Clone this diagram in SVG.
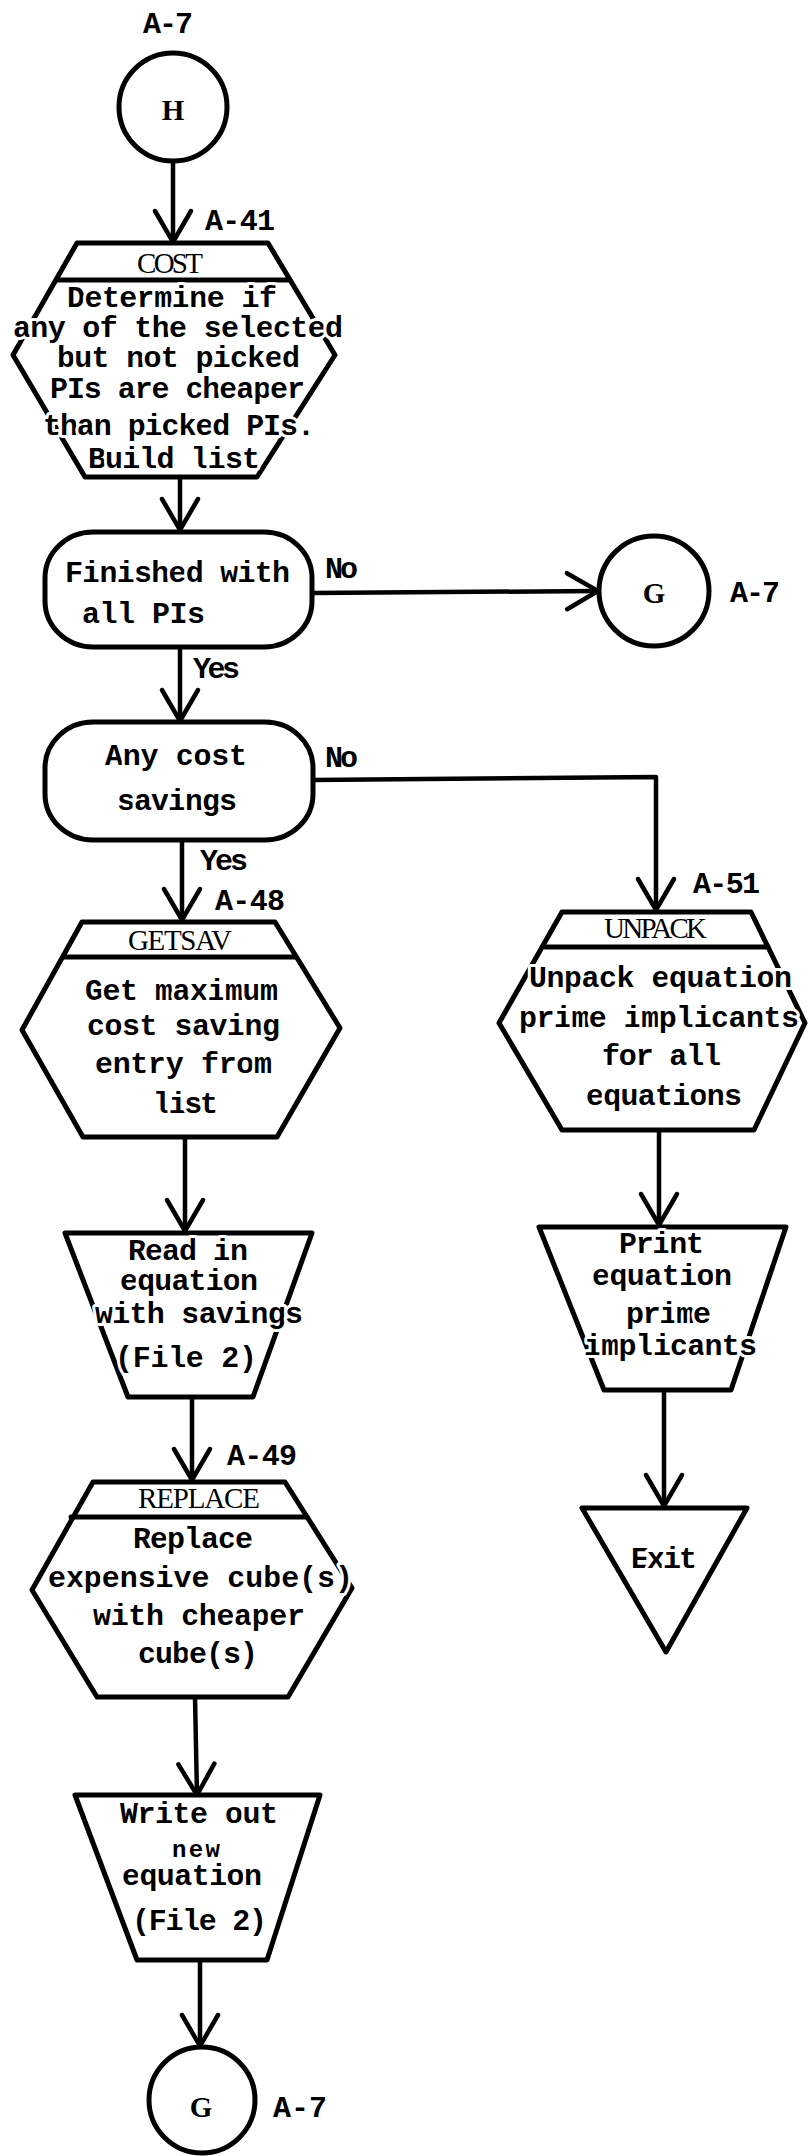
<svg xmlns="http://www.w3.org/2000/svg" width="809" height="2156" viewBox="0 0 809 2156">
<style>
.bg{fill:#fff}
.shape{fill:#fff;stroke:#000;stroke-width:5;stroke-linejoin:round}
.hl{fill:none;stroke:#000;stroke-width:5;stroke-linecap:round}
.conn{fill:none;stroke:#000;stroke-width:4.5;stroke-linecap:round;stroke-linejoin:round}
.t{font-family:"Liberation Mono","DejaVu Sans Mono",monospace;font-weight:bold;font-size:30px;fill:#000;stroke:#fff;stroke-width:6;stroke-linejoin:round;paint-order:stroke}
.lbl{font-family:"Liberation Mono","DejaVu Sans Mono",monospace;font-weight:bold;font-size:30px;fill:#000}
.hd{font-family:"Liberation Serif","Times New Roman",serif;font-size:29px;fill:#000}
.ch{font-family:"Liberation Serif","Times New Roman",serif;font-weight:bold;font-size:29px;fill:#000;text-anchor:middle}
</style>
<defs>
<marker id="arr" markerUnits="userSpaceOnUse" markerWidth="44" markerHeight="44" viewBox="-36 -22 44 44" refX="0" refY="0" orient="auto" overflow="visible">
<path d="M-31,-18 L0,0 L-31,18" fill="none" stroke="#000" stroke-width="4.5" stroke-linecap="round" stroke-linejoin="miter"/>
</marker>
</defs>
<rect class="bg" x="0" y="0" width="809" height="2156"/>

<g id="connectors">
<path class="conn" d="M173,162 L173,242" marker-end="url(#arr)"/>
<path class="conn" d="M180,478 L180,530" marker-end="url(#arr)"/>
<path class="conn" d="M312,593 L598,591" marker-end="url(#arr)"/>
<path class="conn" d="M180,647 L180,721" marker-end="url(#arr)"/>
<path class="conn" d="M313,780 L656,777 L656,910" marker-end="url(#arr)"/>
<path class="conn" d="M182,840 L182,920" marker-end="url(#arr)"/>
<path class="conn" d="M185,1137 L185,1231" marker-end="url(#arr)"/>
<path class="conn" d="M192,1397 L192,1480" marker-end="url(#arr)"/>
<path class="conn" d="M195,1697 L197,1795" marker-end="url(#arr)"/>
<path class="conn" d="M200,1960 L200,2046" marker-end="url(#arr)"/>
<path class="conn" d="M659,1130 L659,1225" marker-end="url(#arr)"/>
<path class="conn" d="M664,1390 L664,1506" marker-end="url(#arr)"/>
<text class="lbl" x="325" y="578" textLength="33">No</text>
<text class="lbl" x="193" y="678" textLength="47">Yes</text>
<text class="lbl" x="325" y="767" textLength="33">No</text>
<text class="lbl" x="200" y="870" textLength="48">Yes</text>
</g>

<g id="node-H">
<text class="lbl" x="143" y="33" textLength="50">A-7</text>
<circle class="shape" cx="173" cy="107" r="54"/>
<text class="ch" x="173" y="120">H</text>
</g>

<g id="node-cost">
<text class="lbl" x="205" y="230" textLength="70">A-41</text>
<polygon class="shape" points="77,243 268,243 335,355 257,477 85,477 13,355"/>
<line class="hl" x1="57" y1="280" x2="290" y2="280"/>
<text class="hd" x="137" y="273" textLength="66">COST</text>
<text class="t" x="67" y="307" textLength="210">Determine if</text>
<text class="t" x="13" y="337" textLength="330">any of the selected</text>
<text class="t" x="57" y="367" textLength="243">but not picked</text>
<text class="t" x="50" y="398" textLength="255">PIs are cheaper</text>
<text class="t" x="43" y="435" textLength="272">than picked PIs.</text>
<text class="t" x="88" y="468" textLength="172">Build list</text>
</g>

<g id="node-finished">
<rect class="shape" x="45" y="532" width="267" height="115" rx="48" ry="46"/>
<text class="t" x="65" y="582" textLength="225">Finished with</text>
<text class="t" x="82" y="623" textLength="123">all PIs</text>
</g>

<g id="node-G1">
<circle class="shape" cx="654" cy="591" r="55"/>
<text class="ch" x="654" y="603">G</text>
<text class="lbl" x="730" y="602" textLength="50">A-7</text>
</g>

<g id="node-anycost">
<rect class="shape" x="45" y="722" width="268" height="118" rx="48" ry="46"/>
<text class="t" x="105" y="765" textLength="142">Any cost</text>
<text class="t" x="117" y="810" textLength="120">savings</text>
</g>

<g id="node-getsav">
<text class="lbl" x="215" y="910" textLength="70">A-48</text>
<polygon class="shape" points="82,922 275,922 340,1028 277,1137 83,1137 22,1030"/>
<line class="hl" x1="63" y1="957" x2="296" y2="957"/>
<text class="hd" x="128" y="950" textLength="104">GETSAV</text>
<text class="t" x="85" y="1000" textLength="193">Get maximum</text>
<text class="t" x="87" y="1035" textLength="193">cost saving</text>
<text class="t" x="95" y="1073" textLength="177">entry from</text>
<text class="t" x="153" y="1113" textLength="65">list</text>
</g>

<g id="node-readin">
<polygon class="shape" points="65,1233 312,1233 253,1397 128,1397"/>
<text class="t" x="128" y="1260" textLength="120">Read in</text>
<text class="t" x="120" y="1290" textLength="138">equation</text>
<text class="t" x="95" y="1323" textLength="208">with savings</text>
<text class="t" x="115" y="1367" textLength="142">(File 2)</text>
</g>

<g id="node-replace">
<text class="lbl" x="227" y="1465" textLength="70">A-49</text>
<polygon class="shape" points="93,1482 285,1482 352,1588 288,1697 97,1697 32,1590"/>
<line class="hl" x1="71" y1="1517" x2="307" y2="1517"/>
<text class="hd" x="138" y="1508" textLength="122">REPLACE</text>
<text class="t" x="133" y="1548" textLength="120">Replace</text>
<text class="t" x="48" y="1587" textLength="305">expensive cube(s)</text>
<text class="t" x="93" y="1625" textLength="212">with cheaper</text>
<text class="t" x="138" y="1663" textLength="120">cube(s)</text>
</g>

<g id="node-writeout">
<polygon class="shape" points="75,1795 320,1795 267,1960 137,1960"/>
<text class="t" x="120" y="1823" textLength="158">Write out</text>
<text class="t" x="172" y="1857" textLength="48" style="font-size:24px">new</text>
<text class="t" x="122" y="1885" textLength="140">equation</text>
<text class="t" x="132" y="1930" textLength="135">(File 2)</text>
</g>

<g id="node-G2">
<circle class="shape" cx="202" cy="2100" r="53"/>
<text class="ch" x="201" y="2117">G</text>
<text class="lbl" x="273" y="2117" textLength="54">A-7</text>
</g>

<g id="node-unpack">
<text class="lbl" x="693" y="893" textLength="67">A-51</text>
<polygon class="shape" points="562,912 751,912 805,1023 754,1130 562,1130 499,1023"/>
<line class="hl" x1="545" y1="947" x2="768" y2="947"/>
<text class="hd" x="604" y="938" textLength="103">UNPACK</text>
<text class="t" x="529" y="987" textLength="263">Unpack equation</text>
<text class="t" x="519" y="1027" textLength="280">prime implicants</text>
<text class="t" x="602" y="1065" textLength="119">for all</text>
<text class="t" x="586" y="1105" textLength="156">equations</text>
</g>

<g id="node-print">
<polygon class="shape" points="539,1227 786,1227 731,1390 604,1390"/>
<text class="t" x="619" y="1253" textLength="85">Print</text>
<text class="t" x="592" y="1285" textLength="140">equation</text>
<text class="t" x="626" y="1323" textLength="85">prime</text>
<text class="t" x="584" y="1355" textLength="173">implicants</text>
</g>

<g id="node-exit">
<polygon class="shape" points="582,1508 747,1508 666,1652"/>
<text class="t" x="631" y="1568" textLength="66">Exit</text>
</g>
</svg>
